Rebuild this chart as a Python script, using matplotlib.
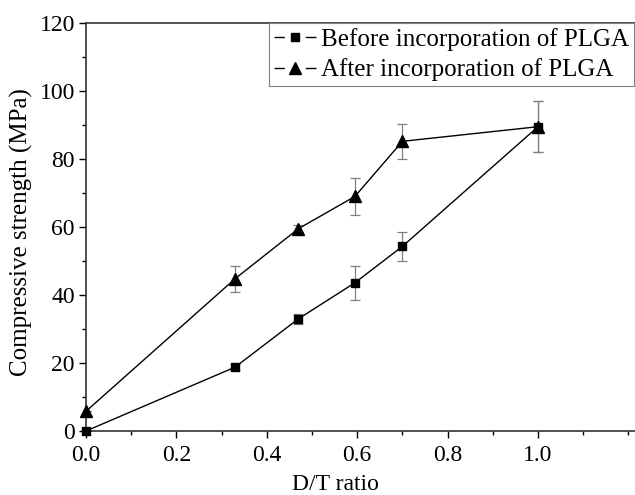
import matplotlib
matplotlib.use("Agg")
import matplotlib.pyplot as plt
from matplotlib.ticker import MultipleLocator
from matplotlib.lines import Line2D

plt.rcParams['font.family'] = ['Liberation Serif', 'DejaVu Serif']
plt.rcParams['mathtext.fontset'] = 'stix'

x_before = [0.0, 0.33, 0.47, 0.595, 0.70, 1.0]
y_before = [0.0, 18.8, 33.0, 43.6, 54.3, 89.5]
err_before = [0.0, 1.0, 1.5, 5.0, 4.3, 7.5]

x_after = [0.0, 0.33, 0.47, 0.595, 0.70, 1.0]
y_after = [5.8, 44.8, 59.5, 69.0, 85.2, 89.5]
err_after = [0.0, 3.8, 1.0, 5.5, 5.2, 7.5]

label_before = "Before incorporation of PLGA"
label_after = "After incorporation of PLGA"

fig = plt.figure(figsize=(6.35, 4.95), dpi=100)
W, H = 635, 495
left, right, bottom, top = 86, 635, 431, 23
ax = fig.add_axes([left / W, 1 - bottom / H, (right - left) / W, (bottom - top) / H])

handles = []
for xs, ys, es, m, ms, lab in [
    (x_before, y_before, err_before, 's', 6, label_before),
    (x_after, y_after, err_after, '^', 8, label_after),
]:
    ax.errorbar(xs, ys, yerr=es, fmt='none', ecolor='#808080', elinewidth=0.9,
                capsize=3.5, capthick=0.9, zorder=2)
    ax.plot(xs, ys, color='black', lw=1.0, marker=m, markersize=ms,
            markerfacecolor='black', markeredgecolor='black', zorder=3,
            clip_on=False)
    handles.append(Line2D([], [], color='black', lw=1.0, marker=m, markersize=ms,
                          markerfacecolor='black', markeredgecolor='black',
                          dashes=(7.5, 15, 8, 100), label=lab))

ax.set_xlim(0, (right - left) / 452.0)
ax.set_ylim(0, 120)
ax.xaxis.set_major_locator(MultipleLocator(0.2))
ax.xaxis.set_minor_locator(MultipleLocator(0.1))
ax.yaxis.set_major_locator(MultipleLocator(20))
ax.yaxis.set_minor_locator(MultipleLocator(10))
ax.set_xticks([0.0, 0.2, 0.4, 0.6, 0.8, 1.0])
ax.set_xticklabels(['0.0', '0.2', '0.4', '0.6', '0.8', '1.0'])

ax.tick_params(which='major', direction='out', length=5, width=1.0, labelsize=17, colors='black')
ax.tick_params(which='minor', direction='out', length=3, width=1.0)
ax.tick_params(axis='x', pad=5)
ax.tick_params(axis='y', pad=3)
ax.spines['right'].set_visible(False)
for s in ['left', 'bottom', 'top']:
    ax.spines[s].set_linewidth(1.2)
    ax.spines[s].set_color('#333333')

ax.set_xlabel('D/T ratio', fontsize=17)
ax.xaxis.set_label_coords((335 - left) / (right - left), -0.105)
ax.set_ylabel('Compressive strength (MPa)', fontsize=18)
ax.yaxis.set_label_coords((33 - left) / (right - left), (bottom - 232) / (bottom - top))

leg = ax.legend(handles=handles, loc='upper right', bbox_to_anchor=(0.999, 1.0), fontsize=18,
                frameon=True, fancybox=False, edgecolor='#808080', framealpha=1,
                handlelength=1.7, handletextpad=0.2, borderpad=0.2,
                labelspacing=0.3, borderaxespad=0.0)
leg.get_frame().set_linewidth(0.8)

fig.savefig('out.png', dpi=100)
